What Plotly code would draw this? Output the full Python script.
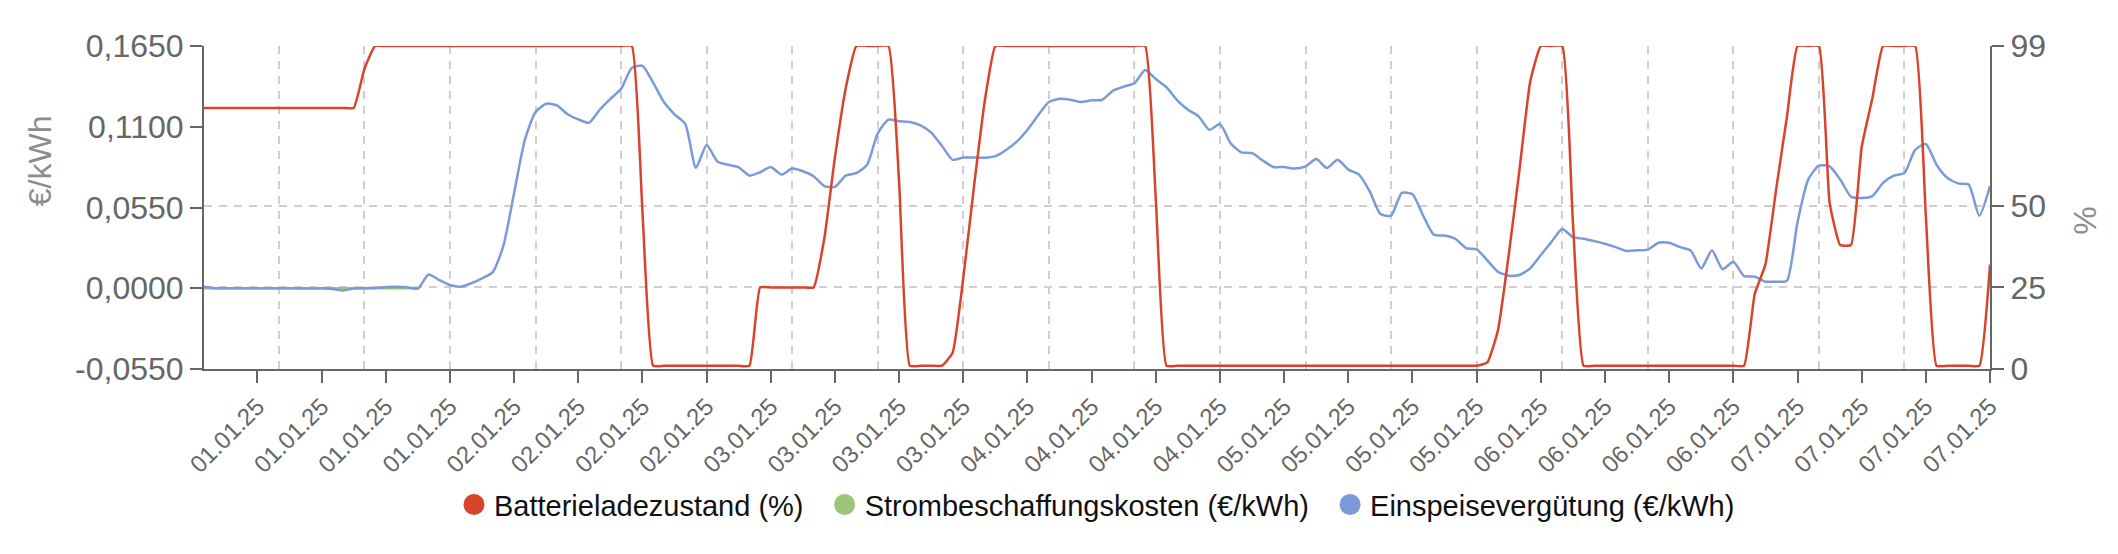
import pandas as pd
import plotly.graph_objects as go

# Stundenwerte 01.01.25 00:00 bis 07.01.25 23:00
zeit = pd.date_range("2025-01-01 00:00", periods=168, freq="h")

# Mindestladezustand liegt bei 1 %
soc_prozent = [
    80, 80, 80, 80, 80, 80, 80, 80, 80, 80, 80, 80,
    80, 80, 80, 92, 99, 99, 99, 99, 99, 99, 99, 99,
    99, 99, 99, 99, 99, 99, 99, 99, 99, 99, 99, 99,
    99, 99, 99, 99, 99, 48, 1, 1, 1, 1, 1, 1,
    1, 1, 1, 1, 25, 25, 25, 25, 25, 25, 40, 65,
    86, 99, 99, 99, 99, 57, 1, 1, 1, 1, 5, 28,
    56, 82, 99, 99, 99, 99, 99, 99, 99, 99, 99, 99,
    99, 99, 99, 99, 99, 52, 1, 1, 1, 1, 1, 1,
    1, 1, 1, 1, 1, 1, 1, 1, 1, 1, 1, 1,
    1, 1, 1, 1, 1, 1, 1, 1, 1, 1, 1, 1,
    2, 12, 35, 61, 88, 99, 99, 99, 45, 1, 1, 1,
    1, 1, 1, 1, 1, 1, 1, 1, 1, 1, 1, 1,
    1, 23, 32, 55, 77, 99, 99, 99, 51, 38, 38, 68,
    83, 99, 99, 99, 99, 47, 1, 1, 1, 1, 1, 32,
]

einspeisung = [
    0.0010, 0.0000, 0.0000, 0.0000, 0.0000, 0.0000, 0.0000, 0.0000, 0.0000, -0.0001, -0.0002, 0.0000,
    -0.0005, -0.0015, -0.0002, 0.0000, 0.0002, 0.0009, 0.0011, 0.0007, -0.0002, 0.0094, 0.0056, 0.0022,
    0.0011, 0.0034, 0.0067, 0.0110, 0.0290, 0.0650, 0.1010, 0.1200, 0.1257, 0.1245, 0.1185, 0.1150,
    0.1127, 0.1216, 0.1290, 0.1358, 0.1500, 0.1515, 0.1400, 0.1268, 0.1185, 0.1120, 0.0820, 0.0976,
    0.0864, 0.0841, 0.0824, 0.0767, 0.0790, 0.0826, 0.0774, 0.0815, 0.0797, 0.0763, 0.0696, 0.0691,
    0.0767, 0.0785, 0.0841, 0.1055, 0.1149, 0.1138, 0.1133, 0.1110, 0.1060, 0.0970, 0.0875, 0.0890,
    0.0890, 0.0889, 0.0900, 0.0942, 0.0999, 0.1080, 0.1178, 0.1268, 0.1290, 0.1284, 0.1268, 0.1280,
    0.1284, 0.1346, 0.1373, 0.1396, 0.1486, 0.1425, 0.1369, 0.1280, 0.1216, 0.1171, 0.1080, 0.1118,
    0.0987, 0.0925, 0.0920, 0.0870, 0.0826, 0.0826, 0.0815, 0.0830, 0.0880, 0.0819, 0.0875, 0.0808,
    0.0774, 0.0660, 0.0505, 0.0494, 0.0650, 0.0640, 0.0494, 0.0364, 0.0359, 0.0337, 0.0274, 0.0265,
    0.0190, 0.0112, 0.0085, 0.0090, 0.0135, 0.0226, 0.0316, 0.0404, 0.0348, 0.0337, 0.0321, 0.0303,
    0.0280, 0.0254, 0.0258, 0.0263, 0.0310, 0.0310, 0.0280, 0.0258, 0.0135, 0.0258, 0.0130, 0.0180,
    0.0083, 0.0079, 0.0045, 0.0045, 0.0050, 0.0449, 0.0740, 0.0835, 0.0830, 0.0740, 0.0624, 0.0615,
    0.0628, 0.0718, 0.0767, 0.0785, 0.0942, 0.0983, 0.0841, 0.0752, 0.0714, 0.0707, 0.0494, 0.0696,
]

# nur am Anfang vorhanden, liegt fast komplett unter der blauen Linie
beschaffung = [
    0.0, 0.0, 0.0, 0.0, 0.0, 0.0, 0.0, 0.0, 0.0, 0.0, 0.0,
    0.0, 0.0, 0.0, 0.0, 0.0, 0.0, 0.0, 0.0, 0.0, 0.0,
]

tick_zeiten = pd.date_range("2025-01-01 05:00", periods=28, freq="6h")
grid_zeiten = pd.date_range("2025-01-01 07:00", periods=21, freq="8h")
eur_ticks = [-0.055, 0.0, 0.055, 0.11, 0.165]
eur_labels = ["-0,0550", "0,0000", "0,0550", "0,1100", "0,1650"]
prozent_ticks = [0, 25, 50, 99]

ROT = "#d9432b"
GRUEN = "#9cc47b"
BLAU = "#7b9ad8"
FONT = "Liberation Sans, Arial, sans-serif"
ACHSE = "#666666"
GRID = "#cfcfcf"
LUECKE = "\u00a0\u00a0"  # etwas mehr Abstand zwischen den Legendeneintraegen

fig = go.Figure()

fig.add_trace(go.Scatter(
    x=zeit[:len(beschaffung)], y=beschaffung, yaxis="y",
    mode="lines", line=dict(color=GRUEN, width=2.5),
    legendgroup="kosten", showlegend=False,
))
fig.add_trace(go.Scatter(
    x=zeit, y=einspeisung, yaxis="y",
    mode="lines", line=dict(color=BLAU, width=2.5, shape="spline", smoothing=0.6),
    legendgroup="einspeisung", showlegend=False,
))
fig.add_trace(go.Scatter(
    x=zeit, y=soc_prozent, yaxis="y2",
    mode="lines", line=dict(color=ROT, width=2.5, shape="spline", smoothing=0.4),
    legendgroup="soc", showlegend=False,
))

# Legende mit runden Symbolen
for name, farbe, gruppe in [
    ("Batterieladezustand (%)" + LUECKE, ROT, "soc"),
    ("Strombeschaffungskosten (€/kWh)" + LUECKE, GRUEN, "kosten"),
    ("Einspeisevergütung (€/kWh)", BLAU, "einspeisung"),
]:
    fig.add_trace(go.Scatter(
        x=[None], y=[None], mode="markers", name=name, legendgroup=gruppe,
        marker=dict(color=farbe, size=16, symbol="circle", line=dict(color=farbe, width=5)),
    ))

achse = dict(
    showline=True, linecolor=ACHSE, linewidth=2,
    ticks="outside", ticklen=12, tickwidth=2, tickcolor=ACHSE,
    zeroline=False,
)

fig.update_layout(
    template="none",
    width=2118, height=554,
    margin=dict(l=196, r=136, t=38, b=193),
    paper_bgcolor="white", plot_bgcolor="white",
    font=dict(family=FONT, color=ACHSE),
    showlegend=True,
    legend=dict(
        orientation="h", x=0.5, xanchor="center", y=-0.42, yanchor="middle",
        font=dict(family=FONT, size=29, color="#111111"),
        bgcolor="rgba(0,0,0,0)",
    ),
    xaxis=dict(
        **achse,
        type="date",
        range=[zeit[0], zeit[-1]],
        tickmode="array", tickvals=tick_zeiten, tickformat="%d.%m.%y",
        tickangle=-45, tickfont=dict(size=24, color=ACHSE),
        showgrid=False,
        minor=dict(
            tickmode="array", tickvals=grid_zeiten, ticklen=0,
            showgrid=True, gridcolor=GRID, gridwidth=2, griddash="8px,7px",
        ),
    ),
    yaxis=dict(
        **achse,
        range=[-0.055, 0.165],
        tickmode="array", tickvals=eur_ticks, ticktext=eur_labels,
        tickfont=dict(size=32, color=ACHSE),
        showgrid=False,
    ),
    yaxis2=dict(
        **achse,
        overlaying="y", side="right",
        range=[0, 99],
        tickmode="array", tickvals=prozent_ticks,
        tickfont=dict(size=32, color=ACHSE),
        showgrid=True, gridcolor=GRID, gridwidth=2, griddash="8px,7px",
    ),
    annotations=[
        dict(text="€/kWh", xref="paper", yref="paper", x=-0.0917, y=0.644,
             textangle=-90, showarrow=False, xanchor="center", yanchor="middle",
             font=dict(family=FONT, size=32, color="#8c8c8c")),
        dict(text="%", xref="paper", yref="paper", x=1.053, y=0.458,
             textangle=-90, showarrow=False, xanchor="center", yanchor="middle",
             font=dict(family=FONT, size=32, color="#8c8c8c")),
    ],
)

fig.write_html("out.html")
